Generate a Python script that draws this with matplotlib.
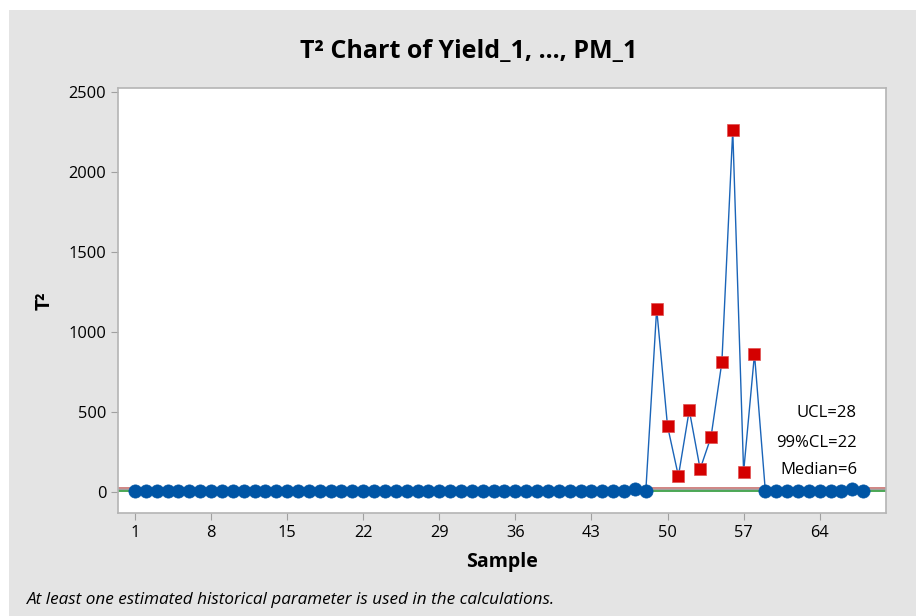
import matplotlib.pyplot as plt
from matplotlib.patches import Rectangle

plt.rcParams['font.family'] = ['Open Sans', 'DejaVu Sans']

# T-squared statistic per sample
samples = list(range(1, 69))
t2 = [4, 4, 5, 4, 5, 4, 5, 4, 5, 5,
      4, 4, 5, 5, 4, 5, 5, 4, 4, 5,
      5, 4, 5, 5, 4, 4, 5, 5, 4, 5,
      5, 4, 5, 5, 4, 4, 5, 5, 4, 5,
      5, 4, 5, 4, 5, 5, 18, 5, 1145, 412,
      100, 512, 144, 344, 812, 2262, 125, 862, 5, 5,
      4, 5, 5, 4, 5, 5, 16, 5]

ucl = 28
cl99 = 22
median = 6
xtick_vals = [1, 8, 15, 22, 29, 36, 43, 50, 57, 64]
ytick_vals = [0, 500, 1000, 1500, 2000, 2500]

fig = plt.figure(figsize=(9.16, 6.16), dpi=100)
fig.patch.set_facecolor('white')
fig.patches.append(Rectangle((9 / 916, 0), 1, 606 / 616, transform=fig.transFigure,
                             facecolor='#e4e4e4', edgecolor='none', zorder=-10))

ax = fig.add_axes([118 / 916, 103 / 616, 768 / 916, 425 / 616])
ax.set_facecolor('white')

# control limits
ax.axhline(ucl, color='#c0504d', lw=1.4, alpha=0.7, zorder=1)
ax.axhline(cl99, color='#a0a0a0', lw=1.0, zorder=1)
ax.axhline(median, color='#2e9a3a', lw=1.2, zorder=1)

ax.plot(samples, t2, color='#1a64b8', lw=1.0, zorder=2)
ok_x = [s for s, v in zip(samples, t2) if v <= ucl]
ok_y = [v for v in t2 if v <= ucl]
bad_x = [s for s, v in zip(samples, t2) if v > ucl]
bad_y = [v for v in t2 if v > ucl]
ax.plot(ok_x, ok_y, 'o', color='#0055a5', ms=9.5, mew=0.5, zorder=3)
ax.plot(bad_x, bad_y, 's', color='#d40000', ms=9, mec='#e05050', mew=0.5, zorder=3)

ax.set_xlim(-0.56, 70.1)
ax.set_ylim(-131, 2525)
ax.set_xticks(xtick_vals)
ax.set_yticks(ytick_vals)
ax.tick_params(colors='#a0a0a0', labelcolor='black', labelsize=11.8, length=5, width=0.8)
for sp in ax.spines.values():
    sp.set_color('#b4b4b4')
    sp.set_linewidth(1.2)

for txt, yv in [('UCL=28', 413), ('99%CL=22', 443), ('Median=6', 470)]:
    ax.text(857 / 916, (616 - yv) / 616, txt, transform=fig.transFigure,
            ha='right', va='center', fontsize=12)

ax.set_xlabel('Sample', fontsize=14, fontweight='bold', labelpad=8)
ax.set_ylabel('T²', fontsize=14, fontweight='bold', labelpad=10)
fig.text(469 / 916, (616 - 52) / 616, 'T² Chart of Yield_1, ..., PM_1',
         ha='center', va='center', fontsize=18, fontweight='bold')
fig.text(27 / 916, (616 - 600) / 616,
         'At least one estimated historical parameter is used in the calculations.',
         ha='left', va='center', fontsize=12.3, style='italic')

fig.savefig('out.png', dpi=100)
